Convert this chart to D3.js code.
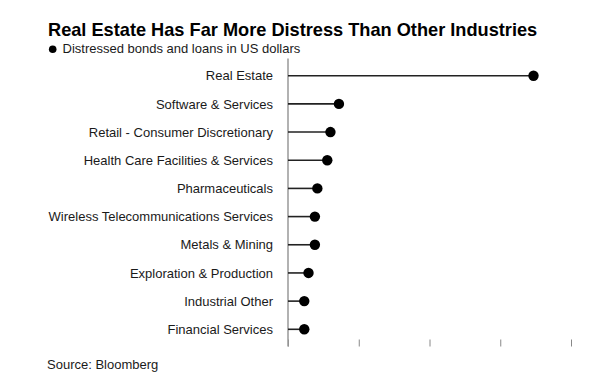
<!DOCTYPE html>
<html>
<head>
<meta charset="utf-8">
<script src="https://cdn.jsdelivr.net/npm/d3@7"></script>
<style>
  body { margin: 0; background: #fff; }
  text { font-family: "Liberation Sans", Arial, sans-serif; fill: #1a1a1a; }
</style>
</head>
<body>
<div class="chart"></div>
<script>
// 產業類別
const industries = [
    'Real Estate',
    'Software & Services',
    'Retail - Consumer Discretionary',
    'Health Care Facilities & Services',
    'Pharmaceuticals',
    'Wireless Telecommunications Services',
    'Metals & Mining',
    'Exploration & Production',
    'Industrial Other',
    'Financial Services'
]
// 困境債券與貸款 (十億美元, 估計值)
const distressed = [69.4, 14.4, 12.0, 11.1, 8.3, 7.6, 7.6, 5.8, 4.6, 4.6]
// x 軸刻度 (無標籤)
const xTicks = [0, 20, 40, 60, 80]

const title = 'Real Estate Has Far More Distress Than Other Industries'
const subtitle = 'Distressed bonds and loans in US dollars'
const source = 'Source: Bloomberg'

const data = industries.map((d, i) => ({ industry: d, value: distressed[i] }))

const svg_width = 600
const svg_height = 390
const margin = { top: 62, left: 288, right: 29, bottom: 44 }

const svg = d3.select('.chart').append('svg')
    .attr('width', svg_width).attr('height', svg_height)

// 比例尺
const xScale = d3.scaleLinear().domain([0, 80]).range([margin.left, svg_width - margin.right])
const yScale = d3.scalePoint().domain(industries)
    .range([75.7, 329.3])

// 標題
svg.append('text').attr('x', 48).attr('y', 35.5)
    .text(title)
    .style('font-size', '18.2px').style('font-weight', 'bold').style('fill', '#000')

svg.append('circle').attr('cx', 52.7).attr('cy', 49.3).attr('r', 3.8).style('fill', '#000')
svg.append('text').attr('x', 62.5).attr('y', 53.3)
    .text(subtitle)
    .style('font-size', '13px')

// x 軸 (只有刻度)
const xAxis = d3.axisBottom(xScale).tickValues(xTicks).tickFormat('').tickSize(7).tickSizeOuter(0)
const xAxisDraw = svg.append('g').attr('class', 'x axis')
    .attr('transform', 'translate(0,339.5)')
    .call(xAxis)
xAxisDraw.select('.domain').remove()
xAxisDraw.selectAll('.tick line').attr('stroke', '#888').attr('stroke-width', 1)

// 基準線
svg.append('line')
    .attr('x1', xScale(0)).attr('x2', xScale(0))
    .attr('y1', 58.5).attr('y2', 346.5)
    .attr('stroke', '#999').attr('stroke-width', 1.5)

// y 軸標籤
const yAxis = d3.axisLeft(yScale).tickSize(0).tickPadding(15)
const yAxisDraw = svg.append('g').attr('class', 'y axis')
    .attr('transform', `translate(${margin.left},0)`)
    .call(yAxis)
yAxisDraw.select('.domain').remove()
yAxisDraw.selectAll('text')
    .style('font-size', '13px')
    .style('font-family', '"Liberation Sans", Arial, sans-serif')
    .style('fill', '#1a1a1a')

// 棒棒糖
const lolli = svg.selectAll('.lolli').data(data).enter()
    .append('g').attr('class', 'lolli')

lolli.append('line')
    .attr('x1', xScale(0))
    .attr('x2', d => xScale(d.value))
    .attr('y1', d => yScale(d.industry))
    .attr('y2', d => yScale(d.industry))
    .attr('stroke', '#222').attr('stroke-width', 1.6)

lolli.append('circle')
    .attr('cx', d => xScale(d.value))
    .attr('cy', d => yScale(d.industry))
    .attr('r', 5.2)
    .style('fill', '#000')

// 資料來源
svg.append('text').attr('x', 47).attr('y', 369)
    .text(source)
    .style('font-size', '13px')
</script>
</body>
</html>
